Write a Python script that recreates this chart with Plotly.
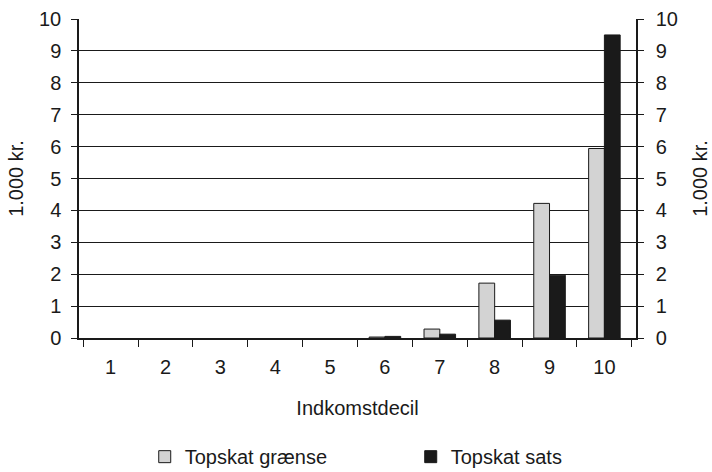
import plotly.graph_objects as go

deciles = ["1", "2", "3", "4", "5", "6", "7", "8", "9", "10"]
graense = [0, 0, 0, 0, 0, 0.03, 0.28, 1.72, 4.22, 5.94]
sats = [0, 0, 0, 0, 0, 0.05, 0.12, 0.56, 1.97, 9.5]
y_ticks = list(range(0, 11))

font = dict(family="Liberation Sans, Arial, sans-serif", size=20, color="#1a1a1a")


def drawn(values):
    # empty deciles get no bar at all, so no outline sits on the axis
    return [v if v > 0 else None for v in values]


fig = go.Figure()
fig.add_trace(go.Bar(
    x=deciles, y=drawn(graense), name="Topskat grænse",
    marker=dict(color="#d3d3d3", line=dict(color="#1a1a1a", width=1)),
))
fig.add_trace(go.Bar(
    x=deciles, y=drawn(sats), name="Topskat sats",
    marker=dict(color="#1a1a1a", line=dict(color="#1a1a1a", width=1)),
))
# invisible trace so the right-hand axis is drawn
fig.add_trace(go.Scatter(x=deciles, y=[None] * len(deciles), yaxis="y2",
                         showlegend=False, hoverinfo="skip"))

axis_common = dict(
    range=[0, 10], tickvals=y_ticks, ticks="outside", ticklen=6,
    tickcolor="#1a1a1a", showline=True, linecolor="#1a1a1a", linewidth=1.5,
    tickfont=font, title_font=font, zeroline=False,
)

fig.update_layout(
    width=712, height=472,
    margin=dict(l=79, r=76, t=19, b=134, autoexpand=False),
    paper_bgcolor="white", plot_bgcolor="white",
    barmode="group", bargap=0.425, bargroupgap=0,
    font=font,
    xaxis=dict(
        type="category", tickson="boundaries", ticks="outside", ticklen=7,
        tickcolor="#1a1a1a", showline=True, linecolor="#1a1a1a", linewidth=1.5,
        showgrid=False, tickfont=font, ticklabelstandoff=10,
        title=dict(text="Indkomstdecil", font=font, standoff=24),
    ),
    yaxis=dict(
        **axis_common, showgrid=True, gridcolor="#1a1a1a", gridwidth=0.8,
        ticklabelstandoff=6,
        title=dict(text="1.000 kr.", standoff=10),
    ),
    yaxis2=dict(
        **axis_common, overlaying="y", side="right", showgrid=False,
        ticklabelstandoff=8,
        title=dict(text="1.000 kr.", standoff=16),
    ),
    legend=dict(
        orientation="h", x=0.118, xanchor="left", y=-0.372, yanchor="middle",
        font=font, entrywidth=221, itemwidth=30,
        traceorder="normal",
    ),
)

fig.write_html("out.html")
